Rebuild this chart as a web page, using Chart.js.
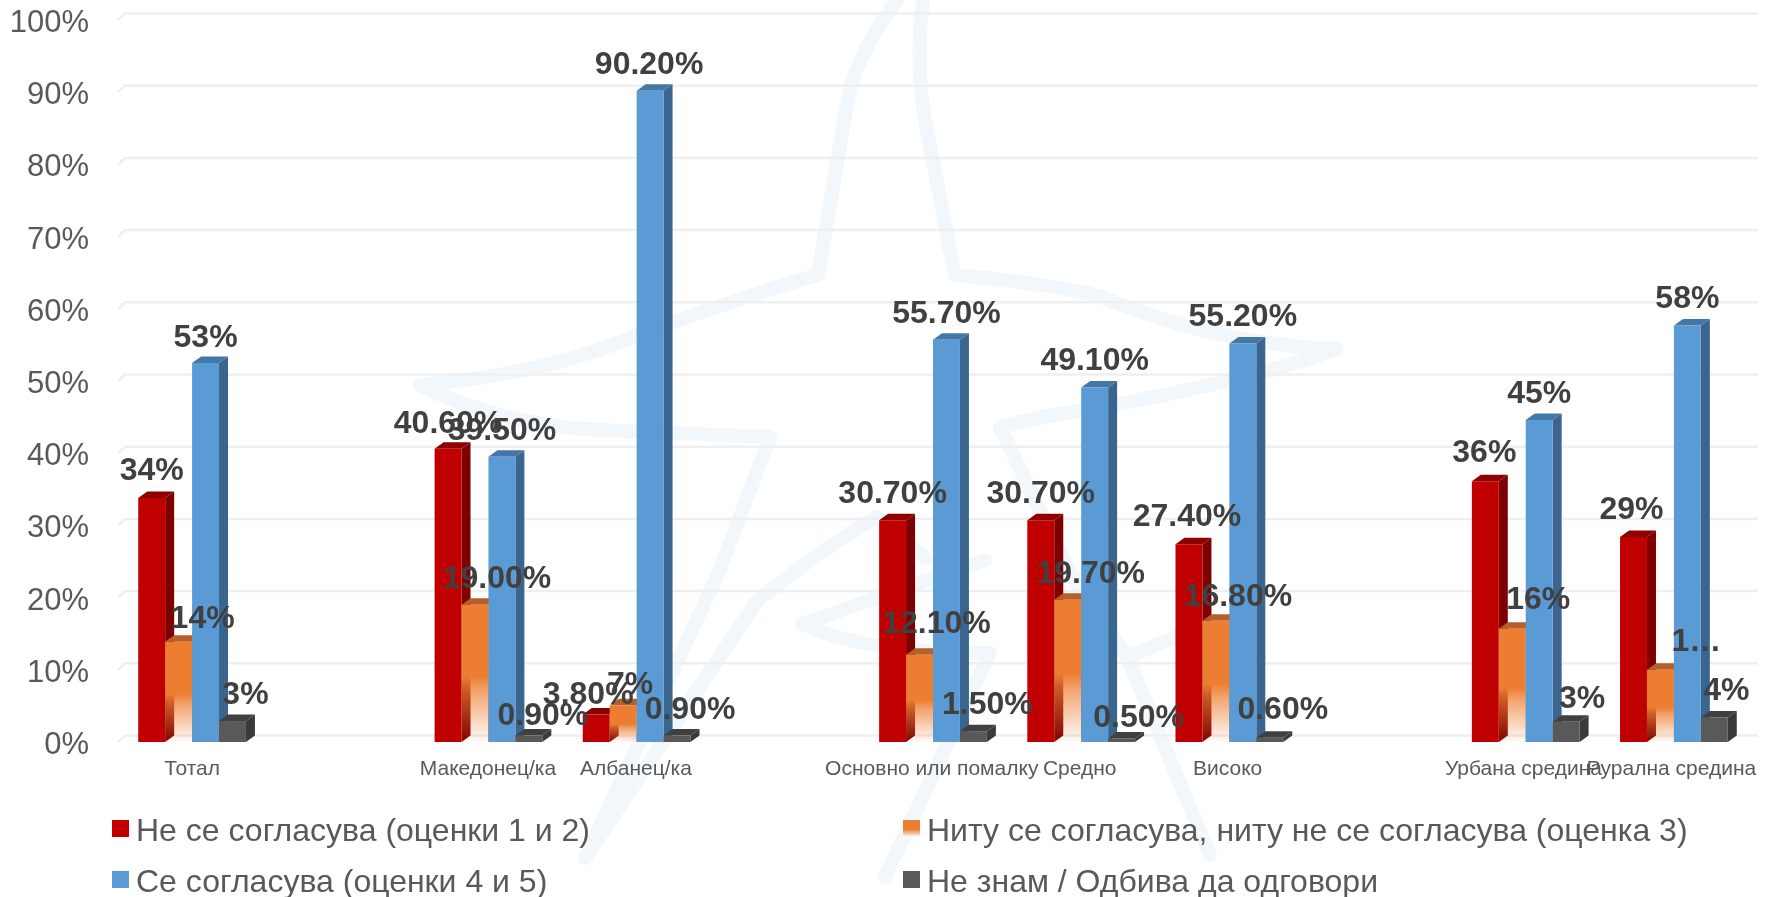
<!DOCTYPE html>
<html lang="mk">
<head>
<meta charset="utf-8">
<title>Графикон</title>
<script src="https://cdn.jsdelivr.net/npm/chart.js@4"></script>
<style>
  html, body { margin: 0; padding: 0; background: #fff; }
  #wrap { position: relative; width: 1777px; height: 897px; overflow: hidden; font-family: "Liberation Sans", Arial, sans-serif; }
  #star, #chart { position: absolute; left: 0; top: 0; }
  .legend-item { position: absolute; color: #595959; font-size: 32px; line-height: 36px; white-space: nowrap; }
  .legend-item i { position: absolute; top: 8px; width: 17px; height: 17px; }
</style>
</head>
<body>
<div id="wrap">
  <!-- pale logo watermark behind the chart -->
  <svg id="star" width="1777" height="897" viewBox="0 0 1777 897" fill="none" stroke="#F2F7FC" stroke-width="14" stroke-linejoin="round" stroke-linecap="round">
    <path d="M897 0 Q852 60 846 110 L818 275 L800 280 Q700 312 633 337 Q540 375 420 385 Q500 425 600 430 L770 437 L719 572 L585 858 L757 601 Q820 550 877 517 L925 558"/>
    <path d="M923 0 Q915 60 925 120 L955 275 Q1060 285 1101 297 Q1220 345 1337 349 Q1240 385 1038 418 L1000 427 L1070 572 L1127 657 L1210 855"/>
    <path d="M1127 657 L1200 627"/>
    <path d="M985 560 L802 624 Q870 655 990 653 L885 877"/>
  </svg>
  <canvas id="chart" width="1777" height="897"></canvas>
  <div id="legend"></div>
</div>

<script>
// Chart data
const categories = ['Тотал', '', 'Македонец/ка', 'Албанец/ка', '', 'Основно или помалку', 'Средно', 'Високо', '', 'Урбана средина', 'Рурална средина'];
const yTicks = [0, 10, 20, 30, 40, 50, 60, 70, 80, 90, 100];

const seriesNames = [
  'Не се согласува (оценки 1 и 2)',
  'Ниту се согласува, ниту не се согласува (оценка 3)',
  'Се согласува (оценки 4 и 5)',
  'Не знам / Одбива да одговори'
];

const disagree = [33.8, null, 40.6, 3.8, null, 30.7, 30.7, 27.4, null, 36.1, 28.4];
const neutral = [13.9, null, 19.0, 5.1, null, 12.1, 19.7, 16.8, null, 15.7, 10.0];
const agree = [52.5, null, 39.5, 90.2, null, 55.7, 49.1, 55.2, null, 44.6, 57.7];
const dontKnow = [2.9, null, 0.9, 0.9, null, 1.5, 0.5, 0.6, null, 2.8, 3.4];

const disagreeLabels = ['34%', '', '40.60%', '3.80%', '', '30.70%', '30.70%', '27.40%', '', '36%', '29%'];
const neutralLabels = ['14%', '', '19.00%', '7%', '', '12.10%', '19.70%', '16.80%', '', '16%', '1…'];
const agreeLabels = ['53%', '', '39.50%', '90.20%', '', '55.70%', '49.10%', '55.20%', '', '45%', '58%'];
const dontKnowLabels = ['3%', '', '0.90%', '0.90%', '', '1.50%', '0.50%', '0.60%', '', '3%', '4%'];

// Colours of the front, side and top of each bar
const frontColors = ['#C00000', '#ED7D31', '#5B9BD5', '#595959'];
const sideColors = ['#7E0000', '#9C5220', '#3A658E', '#3A3A3A'];
const topColors = ['#8E0000', '#B5602A', '#4577A6', '#404040'];

// Label placement as PowerPoint left it: x shift and lift above the bar top
const labelShiftX = [
  [0, 0, 0, -8, 0, 0, 0, -2, 0, -1, -2],
  [24, 0, 22, 7, 0, 17, 23, 22, 0, 26, 36],
  [0, 0, 0, -1, 0, 0, 0, 0, 0, 0, 0],
  [13, 0, 14, 13, 0, 14, 17, 13, 0, 16, 12]
];
const labelLift = [
  [27, 0, 25, 19, 0, 26, 26, 27, 0, 28, 27],
  [22, 0, 26, 20, 0, 30, 26, 24, 0, 28, 28],
  [25, 0, 26, 26, 0, 26, 26, 26, 0, 26, 26],
  [26, 0, 19, 25, 0, 26, 20, 27, 0, 23, 26]
];
const allLabels = [disagreeLabels, neutralLabels, agreeLabels, dontKnowLabels];

// Depth of the fake 3D extrusion
const DEPTH_X = 9;
const DEPTH_Y = 6.5;
const BACK_X = 7;
const GRID_RIGHT = 1758;
const FONT_FAMILY = '"Liberation Sans", Arial, sans-serif';

/**
 * Orange bars fade out towards the axis, so the red side shows through
 */
function neutralFill(context) {
  const chart = context.chart;
  if (!chart.chartArea || context.raw == null) return frontColors[1];
  const yScale = chart.scales.y;
  const top = yScale.getPixelForValue(context.raw);
  const base = yScale.getPixelForValue(0);
  const gradient = chart.ctx.createLinearGradient(0, top, 0, base);
  gradient.addColorStop(0, '#ED7D31');
  gradient.addColorStop(0.52, '#ED7D31');
  gradient.addColorStop(0.62, 'rgba(237,125,49,0.72)');
  gradient.addColorStop(1, 'rgba(237,125,49,0.03)');
  return gradient;
}

function fillPoly(ctx, color, points) {
  ctx.fillStyle = color;
  ctx.beginPath();
  points.forEach((p, i) => (i ? ctx.lineTo(p[0], p[1]) : ctx.moveTo(p[0], p[1])));
  ctx.closePath();
  ctx.fill();
}

// Gridlines on the back wall, with the small floor diagonal at the left
const backGrid = {
  id: 'backGrid',
  beforeDatasetsDraw(chart) {
    const ctx = chart.ctx;
    const area = chart.chartArea;
    ctx.save();
    ctx.strokeStyle = '#EFEFEF';
    ctx.lineWidth = 2.5;
    yTicks.forEach(tick => {
      const y = chart.scales.y.getPixelForValue(tick);
      ctx.beginPath();
      ctx.moveTo(area.left, y);
      ctx.lineTo(area.left + BACK_X, y - DEPTH_Y);
      ctx.lineTo(GRID_RIGHT, y - DEPTH_Y);
      ctx.stroke();
    });
    ctx.restore();
  }
};

// Draws the series left to right with side and top faces, instead of the default pass
const bars3d = {
  id: 'bars3d',
  beforeDatasetsDraw(chart) {
    const ctx = chart.ctx;
    chart.data.datasets.forEach((dataset, d) => {
      chart.getDatasetMeta(d).data.forEach((bar, i) => {
        if (dataset.data[i] == null) return;
        const p = bar.getProps(['x', 'y', 'base', 'width'], true);
        const left = p.x - p.width / 2;
        const right = p.x + p.width / 2;
        fillPoly(ctx, sideColors[d], [
          [right, p.y], [right + DEPTH_X, p.y - DEPTH_Y],
          [right + DEPTH_X, p.base - DEPTH_Y], [right, p.base]
        ]);
        fillPoly(ctx, topColors[d], [
          [left, p.y], [left + DEPTH_X, p.y - DEPTH_Y],
          [right + DEPTH_X, p.y - DEPTH_Y], [right, p.y]
        ]);
        bar.draw(ctx);
      });
    });
    return false;
  }
};

// Axis labels sit a little off the ticks in the original, so they are placed from the scales here
const axisLabels = {
  id: 'axisLabels',
  afterDraw(chart) {
    const ctx = chart.ctx;
    ctx.save();
    ctx.fillStyle = '#595959';
    ctx.textBaseline = 'middle';

    ctx.font = '31px ' + FONT_FAMILY;
    ctx.textAlign = 'right';
    yTicks.forEach(tick => {
      ctx.fillText(tick + '%', 89, chart.scales.y.getPixelForValue(tick) + 3.5);
    });

    ctx.font = '21px ' + FONT_FAMILY;
    ctx.textAlign = 'center';
    categories.forEach((name, i) => {
      if (!name) return;
      ctx.fillText(name, chart.scales.x.getPixelForTick(i) - i * 0.25, 769);
    });
    ctx.restore();
  }
};

// Value labels, on top of all bars
const valueLabels = {
  id: 'valueLabels',
  afterDraw(chart) {
    const ctx = chart.ctx;
    ctx.save();
    ctx.font = 'bold 32px ' + FONT_FAMILY;
    ctx.fillStyle = '#404040';
    ctx.textAlign = 'center';
    ctx.textBaseline = 'middle';
    chart.data.datasets.forEach((dataset, d) => {
      chart.getDatasetMeta(d).data.forEach((bar, i) => {
        if (!allLabels[d][i]) return;
        const p = bar.getProps(['x', 'y'], true);
        ctx.fillText(allLabels[d][i], p.x + labelShiftX[d][i], p.y - labelLift[d][i]);
      });
    });
    ctx.restore();
  }
};

const allSeries = [disagree, neutral, agree, dontKnow];

new Chart(document.getElementById('chart').getContext('2d'), {
  type: 'bar',
  data: {
    labels: categories,
    datasets: seriesNames.map((name, d) => ({
      label: name,
      data: allSeries[d],
      backgroundColor: d === 1 ? neutralFill : frontColors[d],
      borderWidth: 0,
      barPercentage: 1,
      categoryPercentage: 0.727
    }))
  },
  options: {
    responsive: false,
    animation: false,
    layout: { padding: { top: 20, right: 29, left: 0, bottom: 0 } },
    plugins: {
      legend: { display: false },
      tooltip: { enabled: false }
    },
    scales: {
      x: {
        grid: { display: false },
        border: { display: false },
        ticks: { display: false, autoSkip: false },
        afterFit(scale) {
          scale.height = 155;
          scale.paddingLeft = 0;
          scale.paddingRight = 0;
        }
      },
      y: {
        min: 0,
        max: 100,
        grid: { display: false },
        border: { display: false },
        ticks: { display: false, stepSize: 10 },
        afterFit(scale) {
          scale.width = 118;
          scale.paddingTop = 0;
          scale.paddingBottom = 0;
        }
      }
    }
  },
  plugins: [backGrid, bars3d, axisLabels, valueLabels]
});

// Two column legend
const legendSpots = [[112, 812], [903, 812], [112, 863], [903, 863]];
const legendSwatches = [frontColors[0], 'linear-gradient(#ED7D31 55%, #fff)', frontColors[2], frontColors[3]];
seriesNames.forEach((name, d) => {
  const item = document.createElement('div');
  item.className = 'legend-item';
  item.style.left = (legendSpots[d][0] + 24) + 'px';
  item.style.top = legendSpots[d][1] + 'px';
  item.textContent = name;
  const swatch = document.createElement('i');
  swatch.style.left = '-24px';
  swatch.style.background = legendSwatches[d];
  item.appendChild(swatch);
  document.getElementById('legend').appendChild(item);
});
</script>
</body>
</html>
